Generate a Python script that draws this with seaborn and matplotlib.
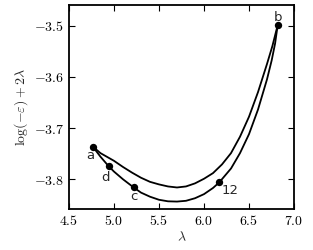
import numpy as np
import pandas as pd
import matplotlib
matplotlib.use("Agg")
import matplotlib.pyplot as plt
from matplotlib.ticker import FuncFormatter
import seaborn as sns

# upper branch
upper_lam = [4.763, 4.85, 5.0, 5.1, 5.2, 5.3, 5.4, 5.5, 5.6, 5.7, 5.8, 5.9,
             6.0, 6.1, 6.2, 6.3, 6.4, 6.5, 6.6, 6.7, 6.76, 6.819]
upper_val = [-3.736, -3.749, -3.764, -3.776, -3.787, -3.797, -3.805, -3.810,
             -3.814, -3.816, -3.814, -3.808, -3.799, -3.788, -3.771, -3.749,
             -3.717, -3.678, -3.630, -3.575, -3.540, -3.499]

# lower branch
lower_lam = [4.763, 4.85, 4.941, 5.0, 5.1, 5.219, 5.3, 5.4, 5.5, 5.6, 5.7,
             5.8, 5.9, 6.0, 6.1, 6.17, 6.3, 6.4, 6.5, 6.6, 6.7, 6.752, 6.79,
             6.819]
lower_val = [-3.736, -3.756, -3.7746, -3.785, -3.800, -3.816, -3.826, -3.834,
             -3.840, -3.843, -3.8435, -3.842, -3.837, -3.829, -3.817, -3.806,
             -3.779, -3.749, -3.712, -3.664, -3.605, -3.568, -3.535, -3.499]

# marked points
pt_names = ["a", "d", "c", "12", "b"]
pt_lam = [4.763, 4.941, 5.219, 6.17, 6.819]
pt_val = [-3.7364, -3.7746, -3.816, -3.806, -3.499]
pt_offsets = [(-2, -6), (-2, -8), (0, -6.5), (7.5, -6), (0, 5.5)]

sns.set_style("ticks")
plt.rcParams["mathtext.fontset"] = "cm"
plt.rcParams["font.family"] = ["DejaVu Sans"]

fig = plt.figure(figsize=(3.13, 2.5), dpi=100)
ax = fig.add_axes([0.2204, 0.164, 0.7189, 0.816])

sns.lineplot(x=upper_lam, y=upper_val, sort=False, estimator=None,
             color="black", lw=1.3, ax=ax)
sns.lineplot(x=lower_lam, y=lower_val, sort=False, estimator=None,
             color="black", lw=1.3, ax=ax)
sns.scatterplot(x=pt_lam, y=pt_val, color="black", s=28, edgecolor="black",
                linewidth=0, zorder=5, ax=ax)

for name, xx, yy, off in zip(pt_names, pt_lam, pt_val, pt_offsets):
    ax.annotate(name, (xx, yy), xytext=off, textcoords="offset points",
                ha="center", va="center", fontsize=9.5)

ax.set_xlim(4.5, 7.0)
ax.set_ylim(-3.858, -3.46)
ax.set_xticks([4.5, 5.0, 5.5, 6.0, 6.5, 7.0])
ax.set_yticks([-3.8, -3.7, -3.6, -3.5])
fmt = FuncFormatter(lambda v, p: r"$%.1f$" % v)
ax.xaxis.set_major_formatter(fmt)
ax.yaxis.set_major_formatter(fmt)
ax.tick_params(direction="in", top=True, right=True, length=4, width=0.8,
               labelsize=10, colors="black")
for s in ax.spines.values():
    s.set_visible(True)
    s.set_linewidth(1.3)
    s.set_color("black")

ax.set_xlabel(r"$\lambda$", fontsize=10, labelpad=2)
ax.set_ylabel(r"$\log(-\varepsilon)+2\lambda$", fontsize=10, labelpad=3)

fig.savefig("out.png", dpi=100)
